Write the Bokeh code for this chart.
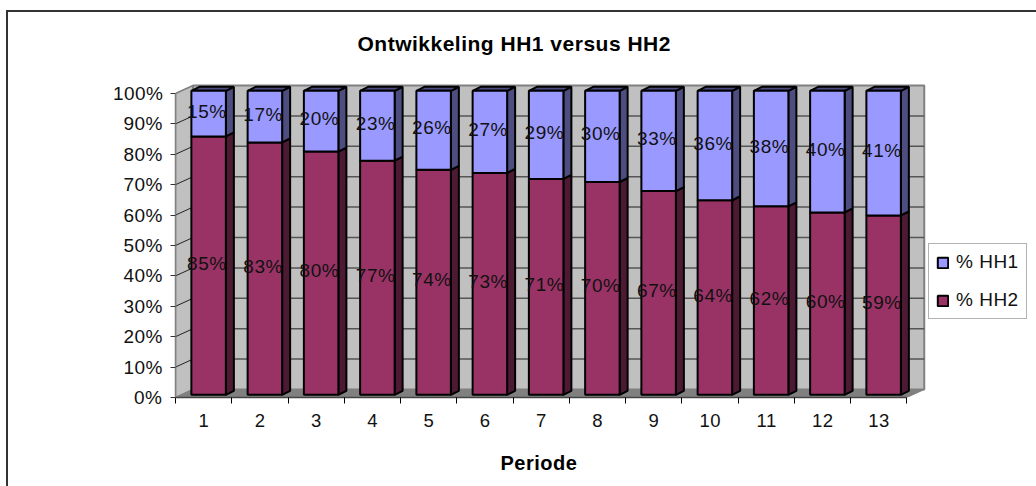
from bokeh.plotting import figure
from bokeh.models import (ColumnDataSource, FixedTicker, Range1d, Legend, LegendItem, Title)
from bokeh.core.properties import value
from bokeh.embed import file_html
from bokeh.resources import INLINE

periods = list(range(1, 14))
hh1 = [15, 17, 20, 23, 26, 27, 29, 30, 33, 36, 38, 40, 41]
hh2 = [85, 83, 80, 77, 74, 73, 71, 70, 67, 64, 62, 60, 59]
y_ticks = list(range(0, 101, 10))

FONT = "Liberation Sans"
PX_X = 56.25          # pixels per category
PX_Y = 3.04           # pixels per percent
FW, FH = 753, 314
WALL_DX, WALL_DY = 17.5 / PX_X, 8 / PX_Y     # 3-D depth of the wall
BAR_DX, BAR_DY = 5 / PX_X, 2.7 / PX_Y        # bar front offset
SIDE_DX, SIDE_DY = 8 / PX_X, 4 / PX_Y        # bar side depth
BAR_W = 34.5 / PX_X
LABEL_DY = 2.5 / PX_Y
X0, X1 = 0.5, 13.5

p = figure(width=1036, height=486, frame_width=FW, frame_height=FH,
           x_range=Range1d(X0, X0 + FW / PX_X), y_range=Range1d(0, FH / PX_Y),
           output_backend="svg", toolbar_location=None,
           min_border_left=175, min_border_top=83, min_border_bottom=89, min_border_right=2,
           background_fill_color="white", border_fill_color="white", outline_line_color=None)
p.grid.visible = False
p.styles = {"letter-spacing": "0.5px"}
p.stylesheets = [":host::after{content:'';position:absolute;left:6px;top:10px;right:0;bottom:0;"
                 "border-left:2px solid #333;border-top:2px solid #333;pointer-events:none;z-index:5}"]

# walls and floor
p.patch([X0, X0 + WALL_DX, X0 + WALL_DX, X0], [0, WALL_DY, 100 + WALL_DY, 100],
        fill_color="#C0C0C0", line_color="#808080", line_width=1.5)
p.patch([X0 + WALL_DX, X1 + WALL_DX, X1 + WALL_DX, X0 + WALL_DX],
        [WALL_DY, WALL_DY, 100 + WALL_DY, 100 + WALL_DY],
        fill_color="#C0C0C0", line_color="#808080", line_width=2)
p.patch([X0, X1, X1 + WALL_DX, X0 + WALL_DX], [0, 0, WALL_DY, WALL_DY],
        fill_color="#808080", line_color="#808080", line_width=1)
# gridlines
ticks = [t for t in y_ticks if 0 < t < 100]
p.multi_line([[X0, X0 + WALL_DX] for _ in ticks], [[t, t + WALL_DY] for t in ticks],
             line_color="#222222", line_width=1)
p.multi_line([[X0 + WALL_DX, X1 + WALL_DX] for _ in ticks], [[t + WALL_DY, t + WALL_DY] for t in ticks],
             line_color="#555555", line_width=1.5)

# bars
xs = [c + BAR_DX for c in periods]
src = ColumnDataSource(dict(x=xs, hh1=hh1, hh2=hh2,
                            b0=[BAR_DY] * 13,
                            b1=[v + BAR_DY for v in hh2],
                            b2=[v + u + BAR_DY for v, u in zip(hh2, hh1)]))


def side(lo, hi):
    return ([[x + BAR_W / 2, x + BAR_W / 2 + SIDE_DX, x + BAR_W / 2 + SIDE_DX, x + BAR_W / 2] for x in xs],
            [[a, a + SIDE_DY, b + SIDE_DY, b] for a, b in zip(lo, hi)])


sx, sy = side(src.data["b0"], src.data["b1"])
p.patches(sx, sy, fill_color="#4D1A33", line_color="black", line_width=2)
sx, sy = side(src.data["b1"], src.data["b2"])
p.patches(sx, sy, fill_color="#4D4D80", line_color="black", line_width=2)
p.patches([[x - BAR_W / 2, x + BAR_W / 2, x + BAR_W / 2 + SIDE_DX, x - BAR_W / 2 + SIDE_DX] for x in xs],
          [[t, t, t + SIDE_DY, t + SIDE_DY] for t in src.data["b2"]],
          fill_color="#4D4D80", line_color="black", line_width=2)
r2 = p.vbar(x="x", bottom="b0", top="b1", width=BAR_W, source=src,
            fill_color="#993366", line_color="black", line_width=2)
r1 = p.vbar(x="x", bottom="b1", top="b2", width=BAR_W, source=src,
            fill_color="#9999FF", line_color="black", line_width=2)

# data labels
lx = [c + BAR_DX * 0.5 for c in periods]
p.text(lx, [a + BAR_DY + LABEL_DY + u / 2 for a, u in zip(hh2, hh1)], text=[f"{v}%" for v in hh1],
       text_font=value(FONT), text_font_size="19px", text_align="center",
       text_baseline="middle", text_color="#111111")
p.text(lx, [v / 2 + BAR_DY + LABEL_DY for v in hh2], text=[f"{v}%" for v in hh2],
       text_font=value(FONT), text_font_size="19px", text_align="center",
       text_baseline="middle", text_color="#111111")

# axes
xa = p.xaxis[0]
xa.ticker = FixedTicker(ticks=periods, minor_ticks=[c - 0.5 for c in periods] + [13.5])
xa.bounds = (X0, X1)
xa.major_tick_line_color = None
xa.major_tick_out = 0
xa.major_tick_in = 0
xa.minor_tick_out = 6
xa.minor_tick_in = 0
xa.minor_tick_line_color = "black"
xa.axis_line_color = "#444444"
xa.axis_line_width = 1.5
xa.major_label_text_font = FONT
xa.major_label_text_font_size = "18.5px"
xa.major_label_text_color = "#111111"
xa.major_label_standoff = 10

ya = p.yaxis[0]
ya.ticker = FixedTicker(ticks=y_ticks)
ya.bounds = (0, 100)
ya.major_label_overrides = {t: f"{t}%" for t in y_ticks}
ya.major_tick_out = 5
ya.major_tick_in = 0
ya.major_tick_line_color = "#333333"
ya.minor_tick_line_color = None
ya.axis_line_color = "#808080"
ya.axis_line_width = 1.5
ya.major_label_text_font = FONT
ya.major_label_text_font_size = "19px"
ya.major_label_text_color = "#111111"
ya.major_label_standoff = 9

# title
t = Title(text="Ontwikkeling HH1 versus HH2", align="left", offset=182, standoff=58,
          text_font=FONT, text_font_size="21px", text_font_style="bold", text_color="black")
p.title = t

# x-axis caption, centred under the categories rather than under the whole frame
p.add_layout(Title(text="Periode", align="left", offset=325, standoff=41,
                   text_font=FONT, text_font_size="20px", text_font_style="bold",
                   text_color="black"), "below")

# legend
legend = Legend(items=[LegendItem(label="% HH1", renderers=[r1]),
                       LegendItem(label="% HH2", renderers=[r2])],
                location=(0, 78), orientation="vertical", margin=0, padding=7, spacing=16,
                glyph_width=13, glyph_height=13, label_standoff=7, label_height=20,
                label_text_font=FONT, label_text_font_size="19px", label_text_color="#111111",
                border_line_color="#666666", border_line_width=1.5,
                background_fill_color="white", background_fill_alpha=1)
p.add_layout(legend, "right")

open("out.html", "w").write(file_html(p, INLINE))
